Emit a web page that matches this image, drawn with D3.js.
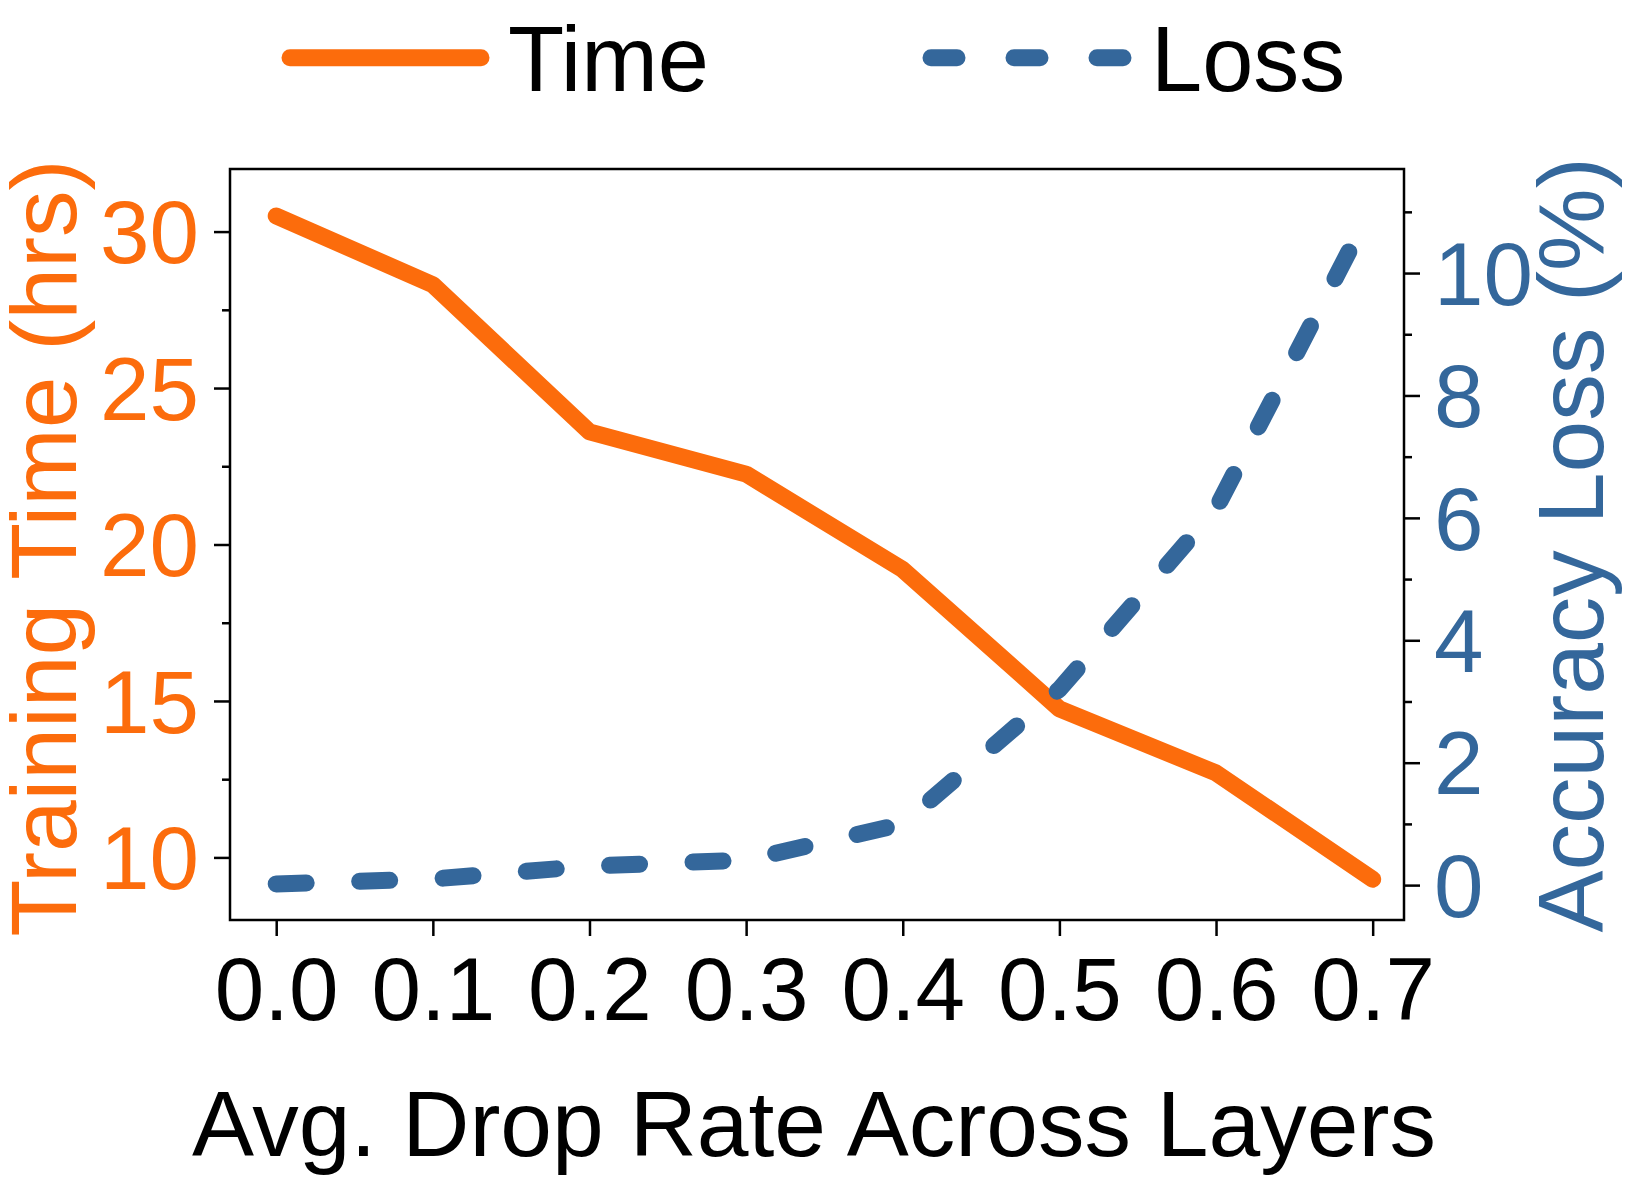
<!DOCTYPE html>
<html>
<head>
<meta charset="utf-8">
<script src="https://cdn.jsdelivr.net/npm/d3@7"></script>
<style>
  body { margin: 0; background: #fff; }
  svg { display: block; font-family: "Liberation Sans", Arial, Helvetica, sans-serif; }
</style>
</head>
<body>
<div id="chart-container"></div>
<script>
// Data
const dropRates = [0.0, 0.1, 0.2, 0.3, 0.4, 0.5, 0.6, 0.7];
const trainingTime = [30.5, 28.3, 23.6, 22.25, 19.2, 14.75, 12.7, 9.3];
const accuracyLoss = [0.02, 0.1, 0.31, 0.41, 1.0, 3.2, 6.15, 11.1];

const xTicks = [0.0, 0.1, 0.2, 0.3, 0.4, 0.5, 0.6, 0.7];
const leftTicks = [10, 15, 20, 25, 30];
const leftMinorTicks = [12.5, 17.5, 22.5, 27.5];
const rightTicks = [0, 2, 4, 6, 8, 10];
const rightMinorTicks = [1, 3, 5, 7, 9, 11];

//******************************************************************************************** */
// Dimensions
const width = 1644;
const height = 1196;
const plot = { left: 230, right: 1404, top: 169, bottom: 920 };

const orange = "#fc6c0c";
const blue = "#34679b";
const lineWidth = 17;
const tickFont = 89;
const labelFont = 93;
const legendFont = 92;

const svg = d3
  .select("#chart-container")
  .append("svg")
  .attr("width", width)
  .attr("height", height);

// Scales
const x = d3.scaleLinear().domain([-0.0295, 0.72]).range([plot.left, plot.right]);
const yLeft = d3.scaleLinear().domain([8, 32]).range([plot.bottom, plot.top]);
const yRight = d3.scaleLinear().domain([-0.57, 11.7]).range([plot.bottom, plot.top]);

//******************************************************************************************** */
// Axes (ticks outside, labels styled separately)
function styleAxis(g) {
  g.select(".domain").remove();
  g.selectAll(".tick line").attr("stroke", "#000").attr("stroke-width", 2.5);
}

// x axis
const xAxis = svg
  .append("g")
  .attr("transform", `translate(0,${plot.bottom})`)
  .call(d3.axisBottom(x).tickValues(xTicks).tickSize(16).tickFormat(d3.format(".1f")));
styleAxis(xAxis);
xAxis
  .selectAll(".tick text")
  .attr("y", 0)
  .attr("dy", null)
  .attr("transform", "translate(0,100)")
  .style("font-size", tickFont + "px")
  .attr("fill", "#000");

// left axis
const leftAxis = svg
  .append("g")
  .attr("transform", `translate(${plot.left},0)`)
  .call(d3.axisLeft(yLeft).tickValues(leftTicks).tickSize(16));
styleAxis(leftAxis);
leftAxis
  .selectAll(".tick text")
  .attr("x", -31)
  .attr("dy", null)
  .attr("y", tickFont * 0.35)
  .style("font-size", tickFont + "px")
  .attr("fill", orange);

const leftMinor = svg
  .append("g")
  .attr("transform", `translate(${plot.left},0)`)
  .call(d3.axisLeft(yLeft).tickValues(leftMinorTicks).tickSize(8).tickFormat(""));
styleAxis(leftMinor);

// right axis
const rightAxis = svg
  .append("g")
  .attr("transform", `translate(${plot.right},0)`)
  .call(d3.axisRight(yRight).tickValues(rightTicks).tickSize(16));
styleAxis(rightAxis);
rightAxis
  .selectAll(".tick text")
  .attr("x", 30)
  .attr("dy", null)
  .attr("y", tickFont * 0.35)
  .style("font-size", tickFont + "px")
  .attr("fill", blue);

const rightMinor = svg
  .append("g")
  .attr("transform", `translate(${plot.right},0)`)
  .call(d3.axisRight(yRight).tickValues(rightMinorTicks).tickSize(8).tickFormat(""));
styleAxis(rightMinor);

//******************************************************************************************** */
// Lines
const timeLine = d3
  .line()
  .x((d, i) => x(dropRates[i]))
  .y((d) => yLeft(d));

const lossLine = d3
  .line()
  .x((d, i) => x(dropRates[i]))
  .y((d) => yRight(d));

svg
  .append("path")
  .datum(trainingTime)
  .attr("d", timeLine)
  .attr("fill", "none")
  .attr("stroke", orange)
  .attr("stroke-width", lineWidth)
  .attr("stroke-linecap", "round")
  .attr("stroke-linejoin", "round");

svg
  .append("path")
  .datum(accuracyLoss)
  .attr("d", lossLine)
  .attr("fill", "none")
  .attr("stroke", blue)
  .attr("stroke-width", lineWidth)
  .attr("stroke-linecap", "round")
  .attr("stroke-dasharray", "30 53.5");

// Plot frame
svg
  .append("rect")
  .attr("x", plot.left)
  .attr("y", plot.top)
  .attr("width", plot.right - plot.left)
  .attr("height", plot.bottom - plot.top)
  .attr("fill", "none")
  .attr("stroke", "#000")
  .attr("stroke-width", 2.5);

//******************************************************************************************** */
// Axis titles
svg
  .append("text")
  .attr("x", (plot.left + plot.right) / 2 - 3)
  .attr("y", 1156)
  .attr("text-anchor", "middle")
  .style("font-size", labelFont + "px")
  .attr("fill", "#000")
  .text("Avg. Drop Rate Across Layers");

svg
  .append("text")
  .attr("transform", `translate(76,548) rotate(-90)`)
  .attr("text-anchor", "middle")
  .style("font-size", labelFont + "px")
  .attr("fill", orange)
  .text("Training Time (hrs)");

svg
  .append("text")
  .attr("transform", `translate(1603,545) rotate(-90)`)
  .attr("text-anchor", "middle")
  .style("font-size", labelFont + "px")
  .attr("fill", blue)
  .text("Accuracy Loss (%)");

//******************************************************************************************** */
// Legend
const legend = svg.append("g");
const legendY = 57.7;

legend
  .append("line")
  .attr("x1", 290)
  .attr("x2", 481)
  .attr("y1", legendY)
  .attr("y2", legendY)
  .attr("stroke", orange)
  .attr("stroke-width", lineWidth)
  .attr("stroke-linecap", "round");

legend
  .append("text")
  .attr("x", 508)
  .attr("y", 91)
  .style("font-size", legendFont + "px")
  .attr("fill", "#000")
  .text("Time");

legend
  .append("line")
  .attr("x1", 931)
  .attr("x2", 1124)
  .attr("y1", legendY)
  .attr("y2", legendY)
  .attr("stroke", blue)
  .attr("stroke-width", lineWidth)
  .attr("stroke-linecap", "round")
  .attr("stroke-dasharray", "26 57");

legend
  .append("text")
  .attr("x", 1151)
  .attr("y", 91)
  .style("font-size", legendFont + "px")
  .attr("fill", "#000")
  .text("Loss");
</script>
</body>
</html>
